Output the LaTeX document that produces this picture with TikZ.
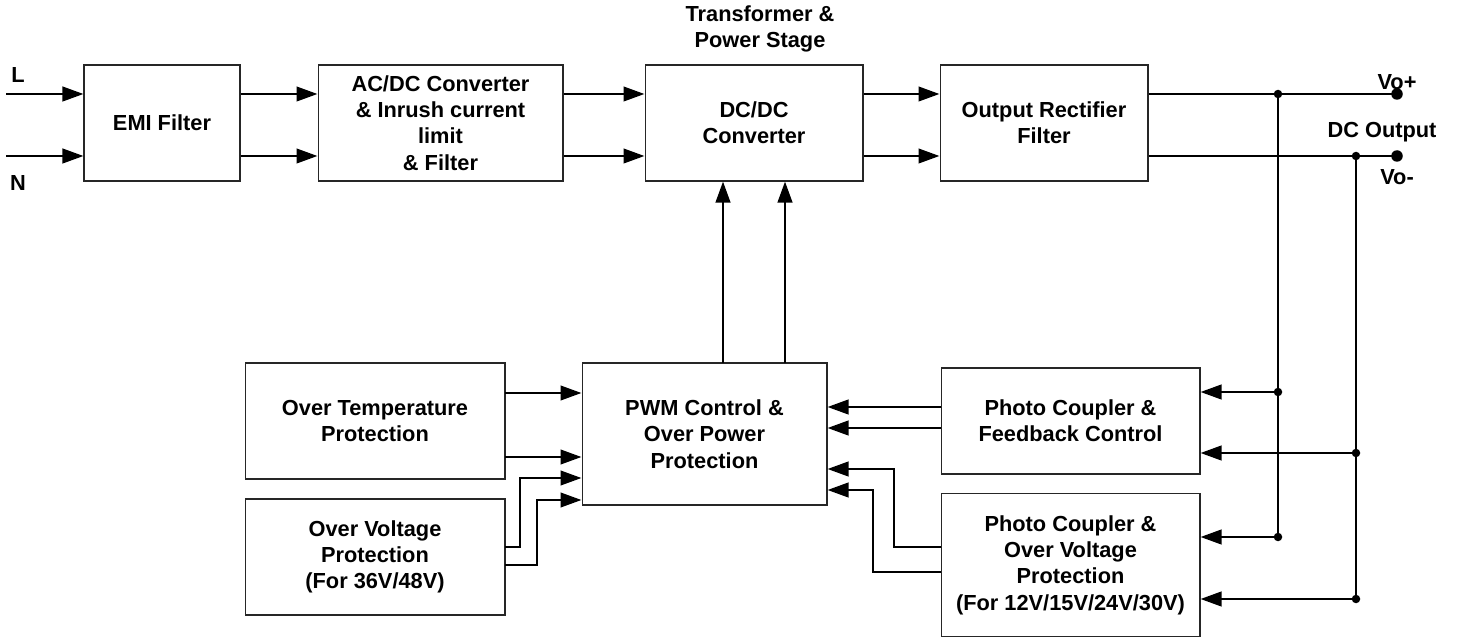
\documentclass[tikz,border=0pt]{standalone}
\usepackage{fontspec}
\setmainfont{Liberation Sans}
\usetikzlibrary{arrows.meta}

\begin{document}
\begin{tikzpicture}[x=0.02cm, y=-0.02cm,
	font=\fontsize{12.4}{15}\selectfont\bfseries,
	blk/.style={draw=black!85, line width=0.6pt, align=center, inner sep=0pt},
	wire/.style={line width=1.45pt},
	arr/.style={wire, -{Triangle[length=0.42cm, width=0.29cm]}},
	jdot/.style={circle, fill=black, inner sep=0pt, minimum size=0.17cm},
	enddot/.style={circle, fill=black, inner sep=0pt, minimum size=0.23cm}]

	\useasboundingbox (0,0) rectangle (1457,638);

	% power path
	\node[blk, minimum width=3.12cm, minimum height=2.32cm] (emi) at (162,123) {EMI Filter};
	\node[blk, minimum width=4.9cm, minimum height=2.32cm] (acdc) at (440.5,123) {AC/DC Converter\\\& Inrush current\\limit\\\& Filter};
	\node[blk, minimum width=4.36cm, minimum height=2.32cm] (dcdc) at (754,123) {DC/DC\\Converter};
	\node[blk, minimum width=4.16cm, minimum height=2.32cm] (orf) at (1044,123) {Output Rectifier\\Filter};

	% control part
	\node[blk, minimum width=4.9cm, minimum height=2.84cm] (pwm) at (704.5,434) {PWM Control \&\\Over Power\\Protection};
	\node[blk, minimum width=5.2cm, minimum height=2.32cm] (otp) at (375,421) {Over Temperature\\Protection};
	\node[blk, minimum width=5.2cm, minimum height=2.32cm] (ovp) at (375,557) {Over Voltage\\Protection\\(For 36V/48V)};
	\node[blk, minimum width=5.18cm, minimum height=2.12cm] (pcfb) at (1070.5,421) {Photo Coupler \&\\Feedback Control};
	\node[blk, minimum width=5.18cm, minimum height=2.86cm] (pcov) at (1070.5,565) {Photo Coupler \&\\Over Voltage\\Protection\\(For 12V/15V/24V/30V)};

	\node (lblL) at (18,75) {L};
	\node (lblN) at (18,183) {N};
	\node[align=center] (lblT) at (760,29) {Transformer \&\\Power Stage};
	\node (lblVp) at (1397,82) {Vo+};
	\node (lblDC) at (1382,132) {DC Output};
	\node (lblVn) at (1397,177) {Vo-};

	% top row
	\coordinate (inL) at (6,94);
	\coordinate (inN) at (6,156);
	\draw[arr] (inL) -- (emi.west |- inL);
	\draw[arr] (inN) -- (emi.west |- inN);
	\draw[arr] (emi.east |- inL) -- (acdc.west |- inL);
	\draw[arr] (emi.east |- inN) -- (acdc.west |- inN);
	\draw[arr] (acdc.east |- inL) -- (dcdc.west |- inL);
	\draw[arr] (acdc.east |- inN) -- (dcdc.west |- inN);
	\draw[arr] (dcdc.east |- inL) -- (orf.west |- inL);
	\draw[arr] (dcdc.east |- inN) -- (orf.west |- inN);

	% output rails
	\node[enddot] (vop) at (1397,94) {};
	\node[enddot] (von) at (1397,156) {};
	\node[jdot] (pTop) at (1278,94) {};
	\node[jdot] (pFb) at (1278,392) {};
	\node[jdot] (pOv) at (1278,537) {};
	\node[jdot] (nTop) at (1356,156) {};
	\node[jdot] (nFb) at (1356,453) {};
	\node[jdot] (nOv) at (1356,599) {};
	\draw[wire] (orf.east |- vop) -- (vop.center);
	\draw[wire] (orf.east |- von) -- (von.center);
	\draw[wire] (pTop.center) -- (pOv.center);
	\draw[wire] (nTop.center) -- (nOv.center);
	\draw[arr] (pFb.center) -- (pcfb.east |- pFb);
	\draw[arr] (nFb.center) -- (pcfb.east |- nFb);
	\draw[arr] (pOv.center) -- (pcov.east |- pOv);
	\draw[arr] (nOv.center) -- (pcov.east |- nOv);

	% pwm to dc/dc
	\coordinate (ctlA) at (723,363);
	\coordinate (ctlB) at (785,363);
	\draw[arr] (ctlA) -- (dcdc.south -| ctlA);
	\draw[arr] (ctlB) -- (dcdc.south -| ctlB);

	% left inputs
	\coordinate (otA) at (505,393);
	\coordinate (otB) at (505,457);
	\draw[arr] (otA) -- (pwm.west |- otA);
	\draw[arr] (otB) -- (pwm.west |- otB);
	\coordinate (ovA) at (505,547);
	\coordinate (ovAk) at (520,478);
	\coordinate (ovB) at (505,565);
	\coordinate (ovBk) at (537,500);
	\draw[arr] (ovA) -| (ovAk) -- (pwm.west |- ovAk);
	\draw[arr] (ovB) -| (ovBk) -- (pwm.west |- ovBk);

	% right inputs
	\coordinate (fbA) at (941,407);
	\coordinate (fbB) at (941,428);
	\draw[arr] (fbA) -- (pwm.east |- fbA);
	\draw[arr] (fbB) -- (pwm.east |- fbB);
	\coordinate (pvA) at (941,547);
	\coordinate (pvAk) at (894,469);
	\coordinate (pvB) at (941,572);
	\coordinate (pvBk) at (873,490);
	\draw[arr] (pvA) -| (pvAk) -- (pwm.east |- pvAk);
	\draw[arr] (pvB) -| (pvBk) -- (pwm.east |- pvBk);
\end{tikzpicture}
\end{document}
